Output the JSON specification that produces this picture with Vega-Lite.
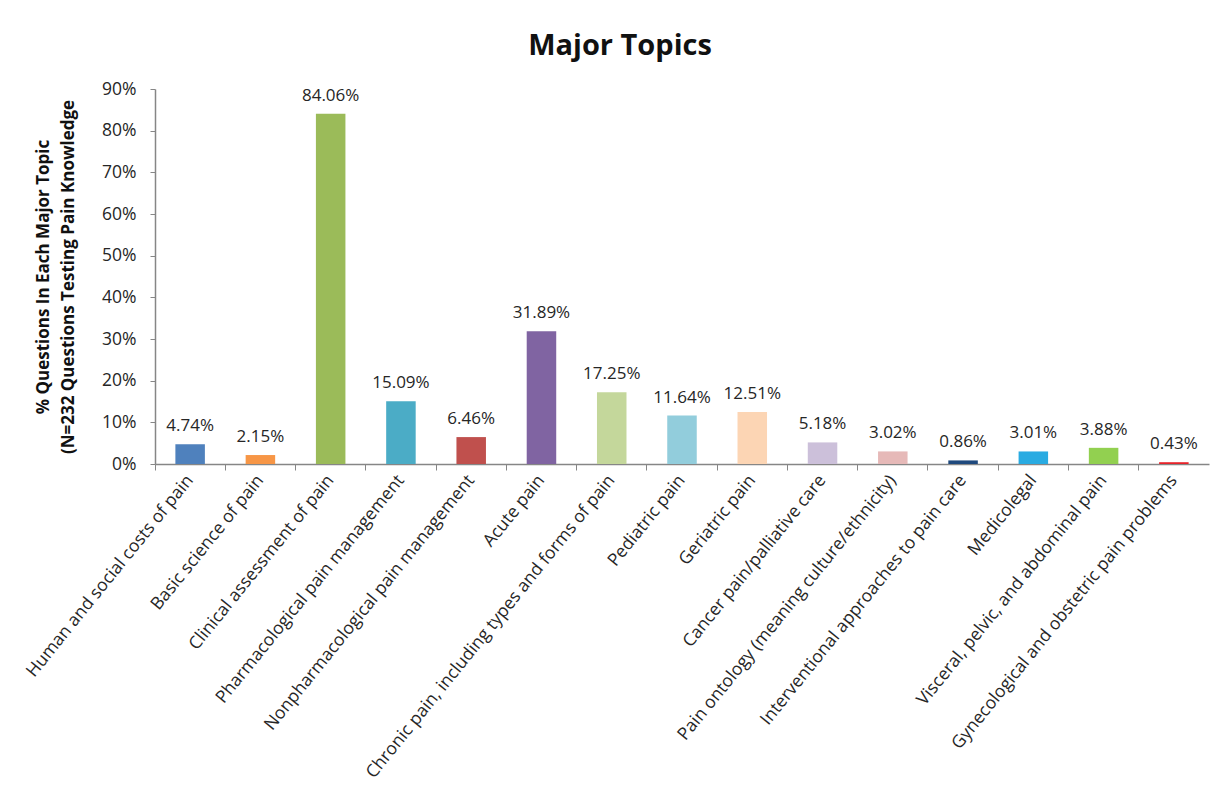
{
  "$schema": "https://vega.github.io/schema/vega-lite/v6.json",
  "autosize": {"type": "none"},
  "padding": {"left": 155, "top": 89, "right": 18, "bottom": 340},
  "width": 1054,
  "height": 375,
  "background": "white",
  "title": {
    "text": "Major Topics",
    "fontSize": 29,
    "font": "Open Sans",
    "fontWeight": "bold",
    "color": "#111",
    "anchor": "middle",
    "dx": -62,
    "offset": 28,
    "dy": 38,
    "baseline": "bottom"
  },
  "data": {
    "values": [
      {"topic": "Human and social costs of pain", "share": 0.0474},
      {"topic": "Basic science of pain", "share": 0.0215},
      {"topic": "Clinical assessment of pain", "share": 0.8406},
      {"topic": "Pharmacological pain management", "share": 0.1509},
      {"topic": "Nonpharmacological pain management", "share": 0.0646},
      {"topic": "Acute pain", "share": 0.3189},
      {"topic": "Chronic pain,  including types and forms of pain", "share": 0.1725},
      {"topic": "Pediatric pain", "share": 0.1164},
      {"topic": "Geriatric pain", "share": 0.1251},
      {"topic": "Cancer pain/palliative care", "share": 0.0518},
      {"topic": "Pain ontology  (meaning culture/ethnicity)", "share": 0.0302},
      {"topic": "Interventional approaches to pain care", "share": 0.0086},
      {"topic": "Medicolegal", "share": 0.0301},
      {"topic": "Visceral, pelvic,  and abdominal pain", "share": 0.0388},
      {"topic": "Gynecological and obstetric pain problems", "share": 0.0043}
    ]
  },
  "encoding": {
    "x": {
      "field": "topic",
      "type": "nominal",
      "sort": null,
      "scale": {"paddingInner": 0, "paddingOuter": 0},
      "axis": {
        "title": null,
        "labelAngle": -51,
        "labelFontSize": 17.5,
        "labelFont": "Open Sans",
        "labelColor": "#262626",
        "labelPadding": 7,
        "labelLimit": 600,
        "bandPosition": 0,
        "tickSize": 6,
        "tickColor": "#868686",
        "domainColor": "#868686",
        "domainWidth": 1.5
      }
    },
    "y": {
      "field": "share",
      "type": "quantitative",
      "scale": {"domain": [0, 0.9]},
      "axis": {
        "values": [0, 0.1, 0.2, 0.3, 0.4, 0.5, 0.6, 0.7, 0.8, 0.9],
        "format": ".0%",
        "grid": false,
        "labelFontSize": 17.5,
        "labelFont": "Open Sans",
        "labelColor": "#262626",
        "labelPadding": 14,
        "tickSize": 5,
        "tickColor": "#868686",
        "domainColor": "#868686",
        "domainWidth": 1.5,
        "title": ["% Questions In Each Major Topic", "(N=232 Questions Testing Pain Knowledge"],
        "titleFontSize": 17,
        "titleFont": "Open Sans",
        "titleFontWeight": "bold",
        "titleColor": "#111",
        "titlePadding": 24,
        "titleLineHeight": 25
      }
    }
  },
  "layer": [
    {
      "mark": {"type": "bar", "width": {"band": 0.42}},
      "encoding": {
        "color": {
          "field": "topic",
          "type": "nominal",
          "legend": null,
          "scale": {
            "domain": [
              "Human and social costs of pain",
              "Basic science of pain",
              "Clinical assessment of pain",
              "Pharmacological pain management",
              "Nonpharmacological pain management",
              "Acute pain",
              "Chronic pain,  including types and forms of pain",
              "Pediatric pain",
              "Geriatric pain",
              "Cancer pain/palliative care",
              "Pain ontology  (meaning culture/ethnicity)",
              "Interventional approaches to pain care",
              "Medicolegal",
              "Visceral, pelvic,  and abdominal pain",
              "Gynecological and obstetric pain problems"
            ],
            "range": ["#4F81BD", "#F79646", "#9BBB59", "#4BACC6", "#C0504D", "#8064A2", "#C4D79B", "#92CDDC", "#FCD5B4", "#CCC0DA", "#E6B9B8", "#1F497D", "#29ABE2", "#92D050", "#E8232A"]
          }
        }
      }
    },
    {
      "mark": {"type": "text", "baseline": "bottom", "dy": -9, "fontSize": 17, "font": "Open Sans", "color": "#262626"},
      "encoding": {
        "text": {"field": "share", "type": "quantitative", "format": ".2%"}
      }
    }
  ],
  "config": {
    "view": {"stroke": null}
  }
}
